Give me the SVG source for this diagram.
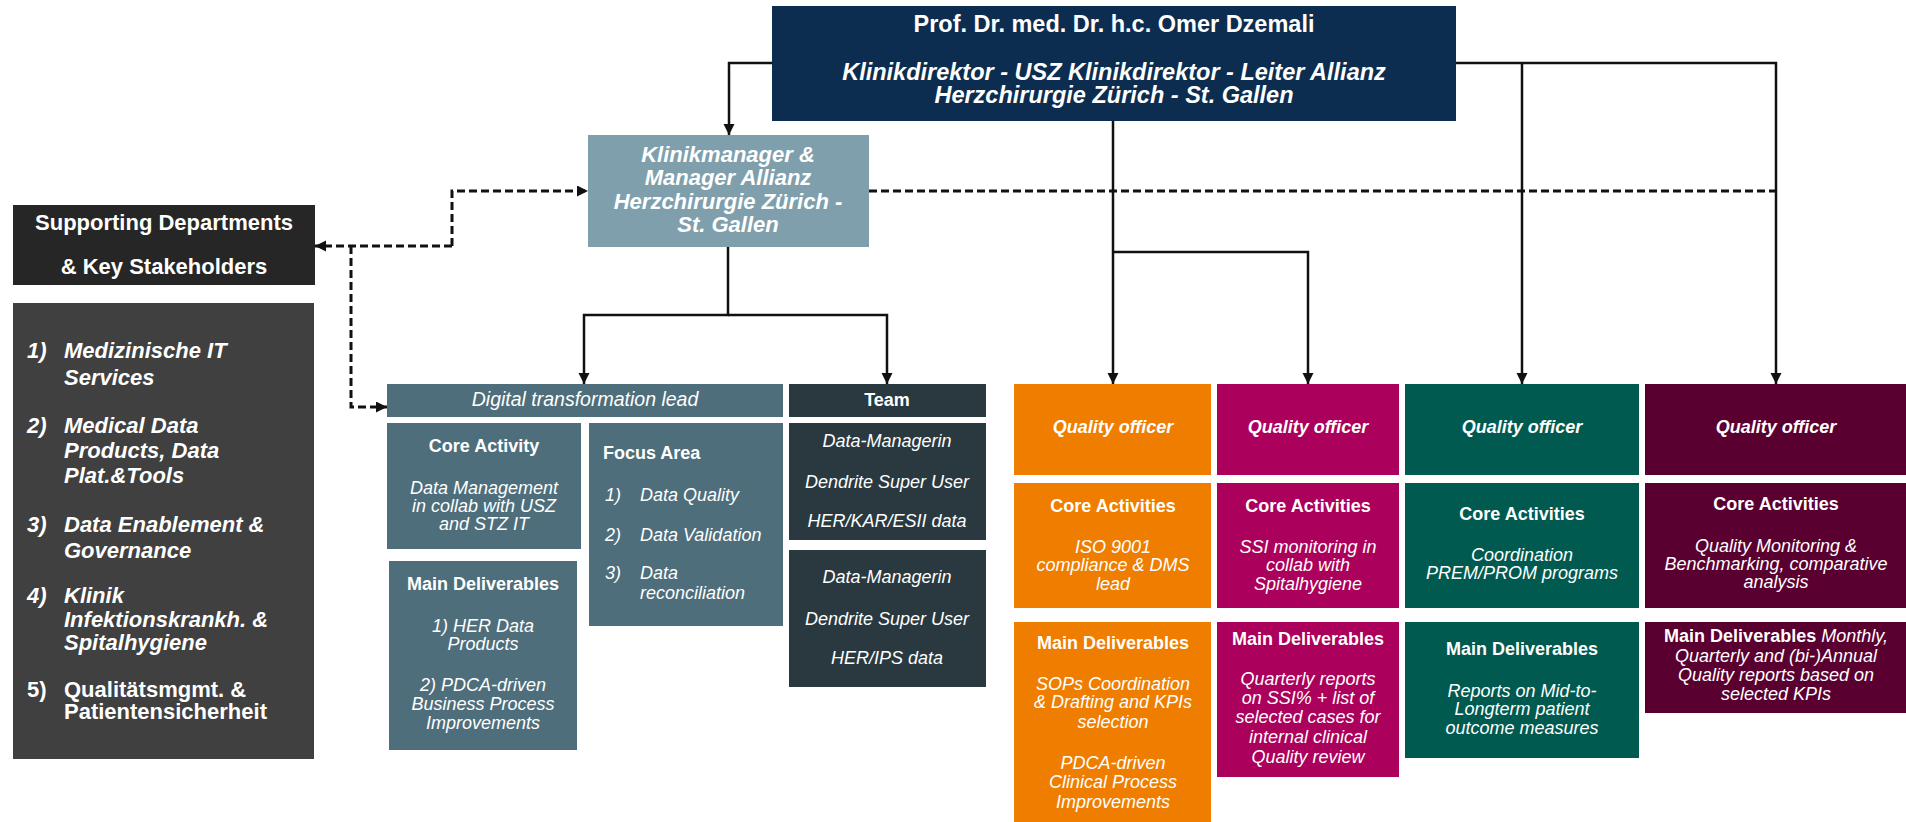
<svg xmlns="http://www.w3.org/2000/svg" width="1906" height="822" viewBox="0 0 1906 822">
<defs>
<marker id="ah" markerUnits="userSpaceOnUse" markerWidth="12" markerHeight="12" refX="11" refY="5.5" orient="auto">
<path d="M0,0 L11,5.5 L0,11 z" fill="#111"/>
</marker>
<style>
text{font-family:"Liberation Sans",Arial,sans-serif;fill:#fff;}
.c{text-anchor:middle;}
.b{font-weight:bold;}
.i{font-style:italic;}
.s18{font-size:18px;}
.s22{font-size:22px;}
.s23{font-size:23.5px;}
.ln{fill:none;stroke:#111;stroke-width:2.5;}
.dl{fill:none;stroke:#111;stroke-width:3;stroke-dasharray:8 4;}
</style>
</defs>
<rect width="1906" height="822" fill="#fff"/>

<g id="connectors">
<path class="ln" d="M772,63 H729 V135" marker-end="url(#ah)"/>
<path class="ln" d="M1113,121 V384" marker-end="url(#ah)"/>
<path class="ln" d="M1113,252 H1308 V384" marker-end="url(#ah)"/>
<path class="ln" d="M1456,63 H1776 V384" marker-end="url(#ah)"/>
<path class="ln" d="M1522,63 V384" marker-end="url(#ah)"/>
<path class="ln" d="M728,247 V315 H584 V384" marker-end="url(#ah)"/>
<path class="ln" d="M728,315 H887 V384" marker-end="url(#ah)"/>
<path class="dl" d="M869,191 H1776"/>
<path class="dl" d="M452,246 V191 H588" marker-end="url(#ah)"/>
<path class="dl" d="M452,246 H315" marker-end="url(#ah)"/>
<path class="dl" d="M351,246 V407 H387" marker-end="url(#ah)"/>
</g>

<g id="director">
<rect x="772" y="6" width="684" height="115" fill="#0c2d4f"/>
<text class="c s23 b" x="1114" y="32">Prof. Dr. med. Dr. h.c. Omer Dzemali</text>
<text class="c s23 b i" x="1114" y="80">Klinikdirektor - USZ Klinikdirektor - Leiter Allianz</text>
<text class="c s23 b i" x="1114" y="103">Herzchirurgie Zürich - St. Gallen</text>
</g>

<g id="klinikmanager">
<rect x="588" y="135" width="281" height="112" fill="#7f9fad"/>
<text class="c s22 b i" x="728" y="162">Klinikmanager &amp;</text>
<text class="c s22 b i" x="728" y="185">Manager Allianz</text>
<text class="c s22 b i" x="728" y="209">Herzchirurgie Zürich -</text>
<text class="c s22 b i" x="728" y="232">St. Gallen</text>
</g>

<g id="supporting">
<rect x="13" y="205" width="302" height="80" fill="#262626"/>
<text class="c s22 b" x="164" y="230">Supporting Departments</text>
<text class="c s22 b" x="164" y="274">&amp; Key Stakeholders</text>
</g>

<g id="stakeholders">
<rect x="13" y="303" width="301" height="456" fill="#404040"/>
<g class="s22 b i">
<text x="27" y="358">1)</text><text x="64" y="358">Medizinische IT</text><text x="64" y="385">Services</text>
<text x="27" y="433">2)</text><text x="64" y="433">Medical Data</text><text x="64" y="458">Products, Data</text><text x="64" y="483">Plat.&amp;Tools</text>
<text x="27" y="532">3)</text><text x="64" y="532">Data Enablement &amp;</text><text x="64" y="558">Governance</text>
<text x="27" y="603">4)</text><text x="64" y="603">Klinik</text><text x="64" y="627">Infektionskrankh. &amp;</text><text x="64" y="650">Spitalhygiene</text>
</g>
<g class="s22 b">
<text x="27" y="697">5)</text><text x="64" y="697">Qualitätsmgmt. &amp;</text><text x="64" y="719">Patientensicherheit</text>
</g>
</g>

<g id="digital-lead">
<rect x="387" y="384" width="396" height="33" fill="#4e6e7b"/>
<text class="c i" style="font-size:19.5px" x="585" y="406">Digital transformation lead</text>
</g>

<g id="dl-core">
<rect x="387" y="423" width="194" height="126" fill="#4e6e7b"/>
<text class="c s18 b" x="484" y="452">Core Activity</text>
<g class="c s18 i">
<text x="484" y="494">Data Management</text>
<text x="484" y="512">in collab with USZ</text>
<text x="484" y="530">and STZ IT</text>
</g>
</g>

<g id="dl-deliverables">
<rect x="389" y="561" width="188" height="189" fill="#4e6e7b"/>
<text class="c s18 b" x="483" y="590">Main Deliverables</text>
<g class="c s18 i">
<text x="483" y="632">1) HER Data</text>
<text x="483" y="650">Products</text>
<text x="483" y="691">2) PDCA-driven</text>
<text x="483" y="710">Business Process</text>
<text x="483" y="729">Improvements</text>
</g>
</g>

<g id="dl-focus">
<rect x="589" y="423" width="194" height="203" fill="#4e6e7b"/>
<text class="s18 b" x="603" y="459">Focus Area</text>
<g class="s18 i">
<text x="605" y="501">1)</text><text x="640" y="501">Data Quality</text>
<text x="605" y="541">2)</text><text x="640" y="541">Data Validation</text>
<text x="605" y="579">3)</text><text x="640" y="579">Data</text><text x="640" y="599">reconciliation</text>
</g>
</g>

<g id="team">
<rect x="789" y="384" width="197" height="33" fill="#29393f"/>
<text class="c s18 b" x="887" y="406">Team</text>
</g>
<g id="team-1">
<rect x="789" y="423" width="197" height="117" fill="#29393f"/>
<g class="c s18 i">
<text x="887" y="447">Data-Managerin</text>
<text x="887" y="488">Dendrite Super User</text>
<text x="887" y="527">HER/KAR/ESII data</text>
</g>
</g>
<g id="team-2">
<rect x="789" y="550" width="197" height="137" fill="#29393f"/>
<g class="c s18 i">
<text x="887" y="583">Data-Managerin</text>
<text x="887" y="625">Dendrite Super User</text>
<text x="887" y="664">HER/IPS data</text>
</g>
</g>

<g id="qo-orange">
<rect x="1014" y="384" width="197" height="91" fill="#ef7d00"/>
<text class="c s18 b i" x="1113" y="433">Quality officer</text>
<rect x="1014" y="483" width="197" height="125" fill="#ef7d00"/>
<text class="c s18 b" x="1113" y="512">Core Activities</text>
<g class="c s18 i">
<text x="1113" y="553">ISO 9001</text>
<text x="1113" y="571">compliance &amp; DMS</text>
<text x="1113" y="590">lead</text>
</g>
<rect x="1014" y="622" width="197" height="200" fill="#ef7d00"/>
<text class="c s18 b" x="1113" y="649">Main Deliverables</text>
<g class="c s18 i">
<text x="1113" y="690">SOPs Coordination</text>
<text x="1113" y="708">&amp; Drafting and KPIs</text>
<text x="1113" y="728">selection</text>
<text x="1113" y="769">PDCA-driven</text>
<text x="1113" y="788">Clinical Process</text>
<text x="1113" y="808">Improvements</text>
</g>
</g>

<g id="qo-magenta">
<rect x="1217" y="384" width="182" height="91" fill="#ab005b"/>
<text class="c s18 b i" x="1308" y="433">Quality officer</text>
<rect x="1217" y="483" width="182" height="125" fill="#ab005b"/>
<text class="c s18 b" x="1308" y="512">Core Activities</text>
<g class="c s18 i">
<text x="1308" y="553">SSI monitoring in</text>
<text x="1308" y="571">collab with</text>
<text x="1308" y="590">Spitalhygiene</text>
</g>
<rect x="1217" y="622" width="182" height="155" fill="#ab005b"/>
<text class="c s18 b" x="1308" y="645">Main Deliverables</text>
<g class="c s18 i">
<text x="1308" y="685">Quarterly reports</text>
<text x="1308" y="704">on SSI% + list of</text>
<text x="1308" y="723">selected cases for</text>
<text x="1308" y="743">internal clinical</text>
<text x="1308" y="763">Quality review</text>
</g>
</g>

<g id="qo-teal">
<rect x="1405" y="384" width="234" height="91" fill="#005a50"/>
<text class="c s18 b i" x="1522" y="433">Quality officer</text>
<rect x="1405" y="483" width="234" height="125" fill="#005a50"/>
<text class="c s18 b" x="1522" y="520">Core Activities</text>
<g class="c s18 i">
<text x="1522" y="561">Coordination</text>
<text x="1522" y="579">PREM/PROM programs</text>
</g>
<rect x="1405" y="622" width="234" height="136" fill="#005a50"/>
<text class="c s18 b" x="1522" y="655">Main Deliverables</text>
<g class="c s18 i">
<text x="1522" y="697">Reports on Mid-to-</text>
<text x="1522" y="715">Longterm patient</text>
<text x="1522" y="734">outcome measures</text>
</g>
</g>

<g id="qo-maroon">
<rect x="1645" y="384" width="261" height="91" fill="#5a0030"/>
<text class="c s18 b i" x="1776" y="433">Quality officer</text>
<rect x="1645" y="483" width="261" height="125" fill="#5a0030"/>
<text class="c s18 b" x="1776" y="510">Core Activities</text>
<g class="c s18 i">
<text x="1776" y="552">Quality Monitoring &amp;</text>
<text x="1776" y="570">Benchmarking, comparative</text>
<text x="1776" y="588">analysis</text>
</g>
<rect x="1645" y="622" width="261" height="91" fill="#5a0030"/>
<text class="c s18" x="1776" y="642"><tspan class="b">Main Deliverables</tspan><tspan class="i"> Monthly,</tspan></text>
<g class="c s18 i">
<text x="1776" y="662">Quarterly and (bi-)Annual</text>
<text x="1776" y="681">Quality reports based on</text>
<text x="1776" y="700">selected KPIs</text>
</g>
</g>
</svg>
